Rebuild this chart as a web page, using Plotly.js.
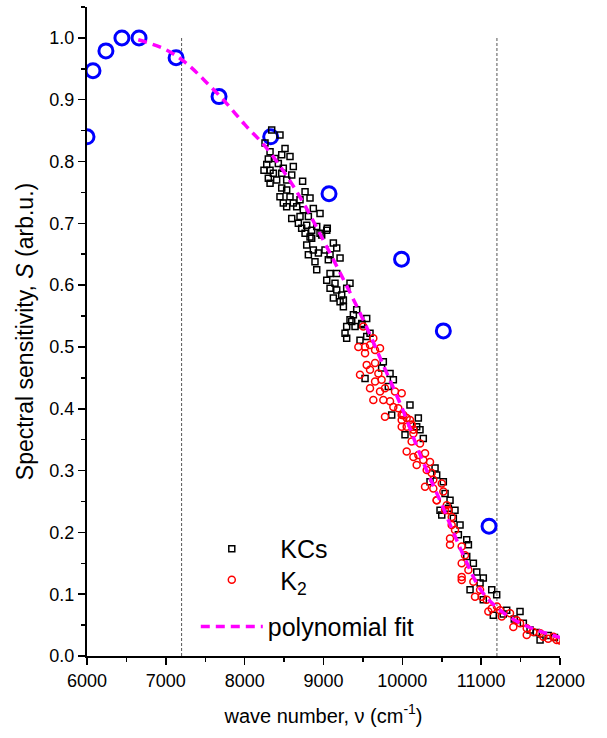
<!DOCTYPE html>
<html>
<head>
<meta charset="utf-8">
<script src="https://cdn.plot.ly/plotly-3.0.1.min.js"></script>
<style>html,body{margin:0;padding:0;background:#fff;}#chart{width:607px;height:738px;}</style>
</head>
<body>
<div id="chart"></div>
<script>
// Blue reference points (open circles)
const refX = [6000, 6076, 6240, 6443, 6660, 7130, 7675, 8330, 9070, 9990, 10520, 11100];
const refY = [0.840, 0.947, 0.979, 1.000, 1.000, 0.968, 0.905, 0.840, 0.748, 0.642, 0.526, 0.210];

// KCs data (open squares)
const kcsX = [8343, 8448, 8258, 8512, 8322, 8470, 8575, 8385, 8300, 8280, 8427, 8617, 8322, 8490, 8245, 8364, 8470, 8597, 8300, 8406,
  8533, 8322, 8735, 8470, 8533, 8766, 8448, 8575, 8702, 8829, 8490, 8617, 8533, 8660, 8744, 8871, 8956, 8597, 8702, 8808,
  8681, 8787, 8914, 8723, 8850, 9048, 8977, 8829, 8766, 8850, 8787, 8956, 9041, 9125, 9168, 8871, 8935, 9019, 9083, 8808,
  9210, 8892, 9061, 8914, 9083, 9168, 9041, 9146, 9336, 9294, 9083, 9168, 9231, 9125, 9252, 9210, 9252, 9421, 9379, 9548,
  9336, 9294, 9400, 9485, 9273, 9294, 9463, 9548, 9358, 9485, 9590, 9759, 9527, 9737, 9844, 9886, 9822, 10097, 9865, 10203,
  10182, 10224, 10266, 10034, 10415, 10436, 10520, 10351, 10542, 10605, 10478, 10500, 10668, 10584, 10647, 10732, 10711, 10817, 10838, 10817,
  10901, 10944, 11027, 10859, 10986, 11134, 11197, 11027, 11154, 11324, 11493, 11535, 11747, 11620, 11420, 11850, 11930, 11280, 11700];
const kcsY = [0.851, 0.843, 0.830, 0.821, 0.816, 0.811, 0.808, 0.805, 0.804, 0.795, 0.797, 0.792, 0.786, 0.789, 0.786, 0.781, 0.781, 0.778, 0.773, 0.770,
  0.770, 0.765, 0.768, 0.757, 0.754, 0.751, 0.743, 0.743, 0.738, 0.741, 0.733, 0.733, 0.727, 0.727, 0.722, 0.724, 0.716, 0.708, 0.711, 0.711,
  0.700, 0.697, 0.695, 0.692, 0.689, 0.692, 0.681, 0.678, 0.684, 0.676, 0.665, 0.684, 0.689, 0.668, 0.660, 0.657, 0.652, 0.657, 0.649, 0.649,
  0.644, 0.638, 0.641, 0.625, 0.619, 0.619, 0.608, 0.603, 0.603, 0.595, 0.595, 0.592, 0.584, 0.579, 0.576, 0.573, 0.565, 0.560, 0.552, 0.546,
  0.544, 0.533, 0.533, 0.536, 0.522, 0.514, 0.511, 0.517, 0.541, 0.538, 0.522, 0.476, 0.449, 0.466, 0.457, 0.447, 0.436, 0.406, 0.390, 0.385,
  0.371, 0.366, 0.352, 0.358, 0.304, 0.293, 0.282, 0.282, 0.263, 0.252, 0.236, 0.228, 0.236, 0.239, 0.223, 0.212, 0.196, 0.188, 0.180, 0.161,
  0.150, 0.136, 0.126, 0.107, 0.118, 0.107, 0.099, 0.091, 0.066, 0.074, 0.072, 0.053, 0.026, 0.042, 0.060, 0.033, 0.030, 0.068, 0.038];

// K2 data (open circles)
const k2X = [9505, 9632, 9717, 9442, 9527, 9590, 9527, 9654, 9548, 9654, 9463, 9590, 9696, 9737, 9654, 9590, 9780, 9717, 9907, 9992,
  9632, 9759, 9844, 9886, 9949, 9780, 10013, 9992, 10097, 10055, 10118, 10140, 9992, 10055, 10118, 9992, 10140, 10118, 10224, 10055,
  10140, 10203, 10288, 10266, 10351, 10182, 10309, 10372, 10393, 10288, 10393, 10500, 10520, 10436, 10563, 10584, 10626, 10436, 10542, 10626,
  10668, 10605, 10605, 10753, 10795, 10753, 10838, 10753, 10753, 10901, 10986, 10922, 11007, 11070, 11134, 11091, 11239, 11261, 11366, 11408,
  11493, 11578, 11578, 11662, 11747, 11789, 11916, 11958, 12000, 11850, 11200, 11450];
const k2Y = [0.533, 0.514, 0.498, 0.500, 0.500, 0.503, 0.490, 0.495, 0.471, 0.474, 0.455, 0.463, 0.457, 0.447, 0.444, 0.433, 0.433, 0.428, 0.428, 0.425,
  0.414, 0.414, 0.412, 0.403, 0.401, 0.387, 0.390, 0.382, 0.382, 0.371, 0.374, 0.366, 0.390, 0.385, 0.374, 0.371, 0.360, 0.347, 0.344, 0.331,
  0.322, 0.325, 0.328, 0.317, 0.314, 0.309, 0.301, 0.296, 0.285, 0.274, 0.271, 0.279, 0.266, 0.252, 0.244, 0.236, 0.225, 0.252, 0.236, 0.212,
  0.204, 0.190, 0.180, 0.177, 0.163, 0.150, 0.139, 0.128, 0.123, 0.120, 0.107, 0.096, 0.096, 0.091, 0.077, 0.072, 0.074, 0.064, 0.069, 0.047,
  0.053, 0.045, 0.034, 0.039, 0.037, 0.031, 0.031, 0.026, 0.025, 0.028, 0.080, 0.058];

// Polynomial fit
const fitX = [6650, 7000, 7250, 7500, 7750, 8000, 8250, 8500, 8750, 9000, 9250, 9500, 9750, 10000, 10250, 10500, 10750, 11000, 11250, 11500, 11750, 12000];
const fitY = [0.997, 0.981, 0.960, 0.930, 0.897, 0.860, 0.826, 0.783, 0.732, 0.672, 0.610, 0.545, 0.473, 0.400, 0.318, 0.245, 0.170, 0.106, 0.073, 0.053, 0.040, 0.030];

// Vertical guide lines
const guideX = [7200, 11200];
const guideTop = 1.0;

const FONT = 'Liberation Sans, Arial, sans-serif';
const SP = '\u2002';

const traces = [
  {x: refX, y: refY, mode: 'markers', type: 'scatter', showlegend: false, cliponaxis: true,
   marker: {symbol: 'circle-open', size: 14, color: '#0000ff', line: {width: 3, color: '#0000ff'}}},
  {x: kcsX, y: kcsY, mode: 'markers', type: 'scatter', name: SP + 'KCs', legend: 'legend',
   marker: {symbol: 'square-open', size: 6, color: '#000000', line: {width: 1.5, color: '#000000'}}},
  {x: k2X, y: k2Y, mode: 'markers', type: 'scatter', name: SP + 'K<sub>2</sub>', legend: 'legend2',
   marker: {symbol: 'circle-open', size: 7, color: '#ff0000', line: {width: 1.5, color: '#ff0000'}}},
  {x: fitX, y: fitY, mode: 'lines', type: 'scatter', name: 'polynomial fit', legend: 'legend3', line: {shape: 'spline',
   color: '#ff00ff', width: 3.5, dash: '9px,6px'}}
];

const shapes = guideX.map(g => ({type: 'line', xref: 'x', yref: 'y', x0: g, x1: g, y0: 0, y1: guideTop,
  line: {color: '#555555', width: 1, dash: '3px,2px'}, layer: 'below'}));

function leg(y) {
  return {x: 0.23, y: y, xanchor: 'left', yanchor: 'middle', bgcolor: 'rgba(0,0,0,0)',
    font: {family: FONT, size: 25, color: '#000'}, itemwidth: 62, tracegroupgap: 0};
}

const layout = {
  width: 607, height: 738,
  margin: {l: 87, r: 47, t: 7, b: 82},
  paper_bgcolor: '#ffffff', plot_bgcolor: '#ffffff',
  font: {family: FONT, color: '#000000', size: 18},
  showlegend: true,
  legend: leg(0.165),
  legend2: leg(0.117),
  legend3: leg(0.045),
  xaxis: {range: [6000, 12000], showgrid: false, zeroline: false, showline: true, linecolor: '#000', linewidth: 2,
    ticks: 'outside', ticklen: 7, tickwidth: 1.5, tickcolor: '#000', dtick: 1000, tick0: 6000, tickformat: 'd',
    tickfont: {family: FONT, size: 18},
    minor: {dtick: 500, ticks: 'outside', ticklen: 4, tickwidth: 1.5, tickcolor: '#000', showgrid: false},
    title: {text: 'wave number, ν (cm<sup>-1</sup>)', font: {family: FONT, size: 20}, standoff: 19}},
  yaxis: {range: [0, 1.05], showgrid: false, zeroline: false, showline: true, linecolor: '#000', linewidth: 2,
    ticks: 'outside', ticklen: 7, tickwidth: 1.5, tickcolor: '#000', dtick: 0.1, tick0: 0, tickformat: '.1f',
    tickfont: {family: FONT, size: 18},
    minor: {dtick: 0.05, ticks: 'outside', ticklen: 4, tickwidth: 1.5, tickcolor: '#000', showgrid: false},
    title: {text: 'Spectral sensitivity, <i>S</i> (arb.u.)', font: {family: FONT, size: 23}, standoff: 9}},
  shapes: shapes
};

Plotly.newPlot('chart', traces, layout, {staticPlot: true, displayModeBar: false});
</script>
</body>
</html>
